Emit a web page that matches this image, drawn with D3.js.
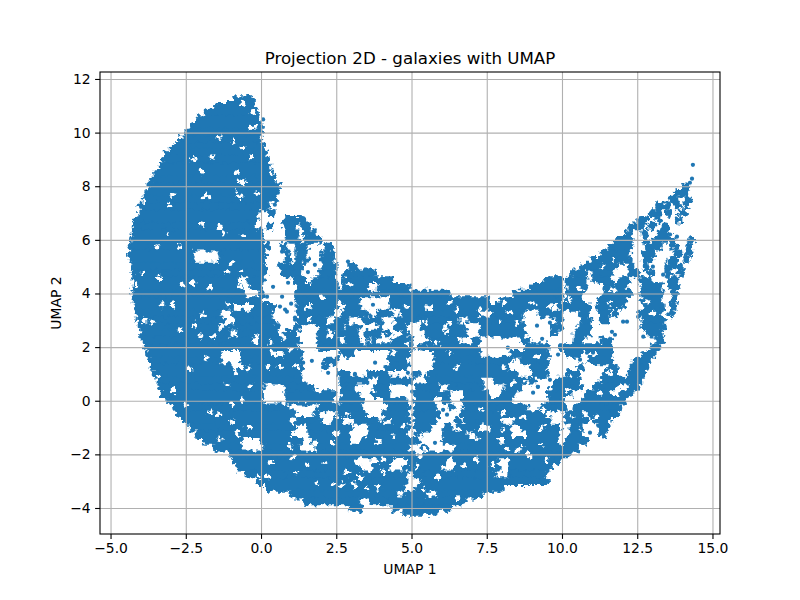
<!DOCTYPE html>
<html>
<head>
<meta charset="utf-8">
<script src="https://cdn.jsdelivr.net/npm/d3@7"></script>
<style>
  html, body { margin: 0; background: #fff; }
  text { font-family: "DejaVu Sans", sans-serif; fill: #000; }
</style>
</head>
<body>
<div id="chart"></div>
<script>
var xTicks = [-5, -2.5, 0, 2.5, 5, 7.5, 10, 12.5, 15]
var yTicks = [-4, -2, 0, 2, 4, 6, 8, 10, 12]

// the cloud is too dense to read point by point, so it is read off the picture
// as filled x spans per row of UMAP 2
var rowY = [11.25, 11, 10.75, 10.5, 10.25, 10, 9.75, 9.5, 9.25, 9, 8.75, 8.5, 8.25, 8, 7.75, 7.5,
  7.25, 7, 6.75, 6.5, 6.25, 6, 5.75, 5.5, 5.25, 5, 4.75, 4.5, 4.25, 4, 3.75, 3.5, 3.25, 3, 2.75, 2.5,
  2.25, 2, 1.75, 1.5, 1.25, 1, 0.75, 0.5, 0.25, 0, -0.25, -0.5, -0.75, -1, -1.25, -1.5, -1.75, -2,
  -2.25, -2.5, -2.75, -3, -3.25, -3.5, -3.75, -4, -4.15]
var rowSpans = [
  [[-0.95, -0.2]],
  [[-1.53, -0.13]],
  [[-1.9, -0.07]],
  [[-2.16, 0]],
  [[-2.36, 0.1]],
  [[-2.56, 0.07]],
  [[-2.76, 0.07]],
  [[-3, 0.13]],
  [[-3.2, 0.23]],
  [[-3.3, 0.3]],
  [[-3.4, 0.33]],
  [[-3.55, 0.4]],
  [[-3.7, 0.53]],
  [[-3.8, 0.66], [14, 14.2]],
  [[-3.9, 0.63], [13.75, 14.2]],
  [[-4, 0.53], [13.5, 13.9], [14.05, 14.15]],
  [[-4.1, 0.3], [13.1, 13.6], [13.7, 13.85], [14, 14.15]],
  [[-4.15, -0.05], [0.2, 0.35], [12.85, 13.3], [13.4, 13.65], [13.85, 14.15]],
  [[-4.2, -0.1], [0.7, 1.5], [12.5, 12.9], [13.1, 13.35], [13.75, 13.8]],
  [[-4.3, -0.2], [0.15, 0.3], [0.7, 1.2], [1.3, 1.7], [12.2, 12.75], [12.85, 13.05], [13.3, 13.6]],
  [[-4.3, 0.1], [0.75, 1.3], [1.4, 1.85], [12.1, 12.3], [12.6, 12.9], [13.15, 13.6]],
  [[-4.35, 0.1], [0.8, 1.3], [1.4, 2.05], [11.75, 12.35], [12.65, 12.75], [13, 13.8], [14.2, 14.3]],
  [[-4.4, 0.3], [0.65, 0.85], [1.1, 1.6], [2.05, 2.45], [11.5, 12.4], [12.75, 13.35], [13.6, 13.9], [14.1, 14.25]],
  [[-4.45, -2.2], [-1.45, 0.2], [0.75, 0.95], [1.1, 1.55], [2, 2.45], [11.25, 12.3], [12.65, 13.15], [13.7, 14], [14.05, 14.2]],
  [[-4.4, -2.2], [-1.4, 0.2], [0.75, 0.9], [1.1, 1.6], [1.95, 2.45], [10.95, 11.7], [11.75, 12.35], [12.65, 13], [13.5, 13.85], [14, 14.15]],
  [[-4.35, 0.2], [0.55, 1.4], [2, 2.55], [2.9, 3.2], [10.6, 11.3], [11.4, 11.9], [12.15, 12.35], [12.65, 12.9], [13.4, 14.05]],
  [[-4.3, 0.2], [0.65, 1.4], [1.85, 2.5], [2.75, 3.85], [10.27, 10.85], [10.95, 11.7], [12.2, 12.6], [12.85, 13.1], [13.4, 13.6], [13.8, 14.05]],
  [[-4.3, -0.7], [-0.5, 0.15], [1.05, 1.5], [1.65, 2.5], [2.65, 4.4], [9.4, 10.05], [10.1, 10.85], [10.95, 11.7], [11.85, 12.3], [12.5, 13], [13.5, 13.9]],
  [[-4.3, -0.6], [-0.4, 0.05], [1.2, 2.6], [2.7, 3.6], [3.85, 4.95], [8.9, 10.05], [10.15, 10.9], [11.35, 12.15], [12.6, 13.35], [13.5, 13.9]],
  [[-4.3, -0.5], [-0.1, 0.1], [1.1, 6.3], [8.35, 10.05], [10.15, 10.7], [11.3, 12.35], [12.6, 13.45], [13.6, 13.85]],
  [[-4.3, 0.1], [1.1, 3.3], [4.25, 7.6], [7.9, 10.05], [10.1, 10.7], [11.2, 12.15], [12.6, 13.35], [13.6, 13.8]],
  [[-4.25, -0.9], [-0.3, 0.5], [1.15, 1.45], [1.65, 2.6], [2.75, 3.3], [4.2, 9.7], [9.85, 11], [11.1, 12.15], [12.7, 13.45], [13.55, 13.7]],
  [[-4.2, -1.3], [-1, 0.4], [1.15, 2.4], [2.65, 3.6], [3.8, 4.4], [4.6, 7.25], [7.55, 8.8], [9.15, 10.05], [10.5, 10.9], [11.2, 11.6], [11.65, 11.85], [12.5, 13.35], [13.5, 13.65]],
  [[-4.15, -1.2], [-0.9, 0.5], [1.2, 2.2], [2.4, 2.95], [3.35, 4.05], [4.35, 6.6], [6.85, 8.7], [9.8, 10.05], [10.6, 11], [11.25, 11.6], [12.6, 13.45]],
  [[-4.1, -1.4], [-1.2, 0.6], [1.05, 1.35], [1.85, 2.75], [2.8, 3.4], [3.85, 4.05], [4.4, 4.85], [5.3, 6.05], [6.2, 6.8], [7.3, 8.8], [9.6, 10.05], [10.5, 11], [12.6, 13.45]],
  [[-4.05, -1], [-0.8, 0.6], [0.75, 1.2], [1.85, 2.2], [2.4, 3.25], [3.4, 4.3], [4.65, 4.95], [5.4, 6.9], [7.2, 8.8], [9.6, 9.8], [10.35, 11], [12.8, 13.35]],
  [[-4, -0.3], [-0.1, 1.3], [1.85, 2.6], [2.75, 3.3], [3.5, 3.85], [4.3, 5.1], [5.6, 6.7], [6.95, 7.3], [8.6, 8.95], [10.35, 10.7], [11.25, 11.7], [13.1, 13.4]],
  [[-3.9, 1.3], [1.85, 5.1], [5.2, 7.3], [8.75, 9.6], [9.85, 11.7], [12.9, 13.3]],
  [[-3.85, -1.3], [-0.7, 0.5], [0.75, 1.4], [2.6, 3.1], [4.2, 5], [5.7, 7.3], [8.25, 9.6], [10.05, 10.7], [11.15, 11.7], [12.65, 13.15]],
  [[-3.75, -1.3], [-0.7, 1.4], [2.1, 2.6], [4.2, 4.9], [5.75, 8.4], [8.6, 9.6], [10.8, 11.7], [12.35, 13]],
  [[-3.7, -0.9], [-0.6, 1.4], [2, 2.3], [4.1, 4.9], [5.7, 8.25], [8.9, 9.5], [10.5, 10.7], [11.5, 11.85], [12.25, 12.9]],
  [[-3.6, 1.4], [2.5, 3], [3.5, 4.3], [5, 5.3], [5.5, 8.5], [9, 9.6], [10.1, 10.6], [11.35, 11.9], [12.15, 12.8]],
  [[-3.5, 1.35], [2.6, 3.6], [3.85, 5.1], [5.45, 7.4], [7.7, 9.15], [9.7, 10.6], [11.25, 12.7]],
  [[-3.45, 0.1], [0.75, 1.8], [2.6, 3.2], [3.75, 4.3], [5.05, 5.95], [6.2, 7.4], [8.05, 8.7], [9.6, 10.7], [11, 11.9], [12.15, 12.6]],
  [[-3.3, 0.1], [0.8, 2.55], [2.65, 3.3], [3.6, 4.3], [5.05, 6.3], [6.7, 7.6], [7.95, 8.5], [9.5, 10.35], [10.7, 11.6], [11.9, 12.4]],
  [[-3.15, 0.1], [0.8, 2.4], [2.6, 3.45], [4.05, 4.9], [5.05, 5.8], [6, 6.3], [6.65, 8.35], [9.5, 10.05], [10.6, 12.15]],
  [[-2.95, 0.95], [1.85, 3.4], [4.2, 4.95], [5.05, 5.85], [6.2, 6.5], [6.7, 8.85], [9.25, 10.15], [10.35, 12]],
  [[-2.8, 1.2], [1.7, 2], [2.5, 3.5], [4, 4.95], [5.05, 6], [6.6, 9.5], [10.05, 10.7], [10.85, 11.9]],
  [[-2.6, 2.05], [2.35, 2.7], [3, 4], [4.3, 4.95], [5.05, 5.85], [6.4, 6.6], [6.7, 8.05], [8.35, 9.7], [10.05, 10.85], [11.05, 11.7]],
  [[-2.4, 1.2], [1.5, 3.05], [3.55, 4.95], [5.05, 5.7], [6.05, 6.4], [6.5, 7.3], [7.6, 8.35], [8.6, 10.05], [10.25, 10.7], [11.15, 11.6]],
  [[-2.2, 1], [1.5, 2.4], [2.6, 3], [3.5, 4.9], [5.1, 5.4], [6, 6.9], [7, 8.3], [8.8, 9.95], [10.2, 10.7], [11.2, 11.4]],
  [[-1.95, -0.6], [-0.05, 1.4], [1.65, 3], [3.3, 3.85], [4, 5.3], [6, 7.9], [8.1, 9.9], [10.1, 10.9]],
  [[-1.6, -0.6], [0.05, 1.3], [1.8, 4.95], [5.3, 5.6], [6.4, 10.6]],
  [[-1.1, 5.2], [5.35, 10.3]],
  [[-0.95, 3.15], [3.85, 4.4], [4.85, 6.2], [6.4, 7.9], [8.2, 10]],
  [[-0.85, 3.3], [3.7, 4.3], [4.65, 6], [6.4, 8], [8.2, 9.7]],
  [[-0.55, 4.9], [5, 7.8], [8.15, 9.5]],
  [[-0.2, 4.9], [5.3, 9.6]],
  [[0.13, 3.85], [3.95, 4.8], [5.1, 8.1]],
  [[0.95, 4.6], [4.7, 5.5], [5.8, 7.4]],
  [[1.4, 3.3], [3.6, 6.8]],
  [[2.9, 3.4], [4.3, 6.35]],
  [[4.7, 5.9]]
]

// small white specks inside the filled spans
var gapX = [-0.6, -0.27, -0.2, -0.37, -0.93, -0.63, -0.3, -1.96, -1.96, -1.63, -0.8, -0.7, -0.6, -0.8, -0.7, -1.8, -1.93,
  -3.9, -2.92, -3.09, -4.07, -1.36, -2.26, -2.96, -1.96, -1.36, -0.13, -0.03,
  -3.12, -1.26, -0.6, -3.42, -2.69, -3.92, -3.36, -2.62, -4.12, -2.26, -1.69, -1.13, -0.63, -0.7, -0.96,
  -3.26, -2.96, -3.85, -3.59, -2.69, -2.19, -1.93, -1.13, -1.59, -2.03, -0.13, -0.47, -1.13,
  -3.42, -1.79, -2.36, -0.86, -0.43, -0.37, -1.13,
  -2.92, -1.43, -1.69, -0.96, -0.63, -2.46, -0.96, -0.43, -0.8, -1.36, 1.03, 1.2, 1.53, 0.96, 1.79, 2.36, 3.06, 3.02, 2.13,
  1.06, 1.53, 0.3, 0.23, -0.13, 2.36, 2.69, 1.2, 2.13, 1.86, 3.06,
  3.19, 3.39, 3.52, 3.12, 4.55, 5.38, 5.22, 5.88, 6.54, 6.71, 7.18, 8, 7.71, 8.5, 8.67, 9.27, 9.27, 4.05, 5.85, 5.45, 7.18, 8.17, 8.84,
  1.63, 1.73, 2.62, 2.96, 3.62, 2.06, 2.62, 4.39, 4.85, 5.51, 5.61, 6.28, 6.51, 5.28, 5.51, 6.28, 6.18, 4.39, 2.96, 2.29, 1.63, 1.4, 0.96, 0.73, 0.3,
  3.62, 4.05, 4.85, 5.85, 6.61, 0.4, 0.96, 0.63, 1.2, 0.2, 2.72, 4.39, 6.28, 6.51,
  7.28, 7.61, 8.04, 8.27, 7.94, 8.5, 9.6, 9.04, 10.27, 10.6, 11.16, 11.7, 12.49, 12.82, 13.02, 11.6, 11.93,
  8.04, 8.7, 9.17, 8.37, 8.84, 10.27, 10.17, 10.83, 11.6, 11.83, 11.26, 9.37, 8.7, 8.04, 7.28, 9.83, 10.37, 11.16, 11.6, 9.37, 8.04, 7.28, 10.03,
  3.19, 3.06, 2.86, 3.46, 3.85, 4.39, 4.72, 5.28, 5.51, 6.51, 7.04, 7.38, 8.5, 8.94, 9.5, 4.05, 4.05, 2.86, 3.29, 6.28]
var gapY = [11.1, 10.75, 10.2, 10.2, 9.65, 9.45, 9.1, 8.6, 8.5, 9.1, 8.55, 8.17, 8.13, 7.8, 7.6, 7.6, 7.57,
  7.45, 7.69, 7.3, 7.1, 9.85, 9, 9.55, 6.57, 6.5, 7.76, 6.95,
  6.2, 6.27, 6.12, 5.75, 5.75, 4.8, 4.58, 4.33, 4.33, 4.4, 4.2, 4.8, 4.78, 4.25, 5.15,
  3.58, 3.58, 3, 2.95, 2.65, 2.83, 3.2, 3.13, 2.39, 2.39, 2.39, 3.4, 3.58,
  0.9, 1.6, 1.15, 1.04, 1.23, 0.52, 0.6,
  0.37, -0.52, -0.45, -0.15, 0.04, -0.15, -0.78, -0.97, -1.2, -1.45, -0.78, -1.2, -1.27, -1.72, -1.57, -1.57, -1.34, -0.82, -0.82,
  -2.13, -2.39, -2.31, -2.84, -2.84, -3.13, -3.13, -2.69, -2.31, -3.06, -3.06,
  -2.2, -2.46, -3.25, -3.2, -2.46, -3.32, -2.46, -2.84, -3.69, -2.46, -2.2, -2.69, -2.39, -1.08, -1.72, -1.64, -1.08, -0.7, -1.83, -1.83, -1.45, -1.83, -1.94,
  5.63, 5.26, 4.51, 4.33, 4.14, 3.84, 3.66, 3.4, 3.51, 3.51, 3.47, 3.66, 3.4, 2.91, 2.91, 2.91, 2.54, 2.95, 2.91, 2.39, 3.02, 2.54, 2.84, 2.35, 2.16,
  2.2, 2.39, 2.16, 2.16, 2.28, 1.79, 1.9, 1.27, 1.27, 1.27, 1.64, 1.79, 1.79, 1.27,
  3.4, 3.28, 3.66, 3.28, 2.91, 2.91, 3.51, 3.66, 3.77, 4.14, 4.4, 4.14, 4.14, 3.66, 3.28, 3.66, 3.4,
  1.27, 1.27, 1.64, 0.67, 0.67, 0.9, 0.41, 0.78, 1.04, 0.41, 0.3, -0.34, -0.6, -0.45, -0.34, -0.45, -0.63, -0.6, -0.82, -0.97, -1.08, -1.08, -0.97,
  0.41, -1.34, -0.52, -1.19, -1.57, -1.34, -0.97, -1.34, -1.57, -1.08, -1.34, -0.97, -1.83, -2.09, -2.2, -2.69, -2.2, -2.69, -2.84, -2.2]

// single points that stand clear of the dense body
var pointX = [1.56, 1.79, 0.4, 0.7, 1, 0.8, 1.13, 3.72, 1.69, 2.06, 3.12, 3.79, 1.4, 2.23, 2.89,
  0.63, 0.86, 1.13, 0.7, 0.9, 0.2, 0.46, 0.4, 0.07, 0.56,
  4.88, 4.52, 3.12, 4.12, 6.05, 6.18, 5.78, 6.61, 9.2, 7.18, 5.02,
  9.17, 9.6, 9.34, 9.67, 8.2, 9.6, 9.2, 9.04, 8.5, 10.6, 10.83, 11.03, 9.87, 11.66, 11.76, 12.7, 12.16, 12.03, 12.53,
  10, 9.7, 10.43, 10.53, 10.93,
  14.35, 14.32, 14.25, 14.25, 13.82, 13.82, 13.59, 14.19, 13.36, 13.02, 13.49]
var pointY = [4.8, 5.07, 4.25, 3.88, 3.62, 3.4, 3.1, 3.58, 1.49, 1.38, 1, 1.42, 1.42, 1.04, 5.19,
  3.51, 3.32, 3.02, 5.56, 4.4, 3.88, 7.31, 7.05, 10.49, 7.76,
  1.04, 0.07, 0.97, -0.71, -0.34, -0.52, -1.57, -0.78, 0.52, -0.78, 0.34,
  2.8, 2.91, 2.31, 2.54, 1.98, 0.78, 0.52, 0.3, 1, 1.53, 1.79, 1.79, 1.72, 2.57, 2.46, 2.39, 2.95, 2.95, 3.13,
  0.04, -0.07, -0.22, -0.63, -1.19,
  8.8, 8.28, 8.13, 5.97, 6.12, 6.75, 6.2, 5.7, 4.7, 5, 4.63]

var width = 800, height = 600
var margin = { top: 72, right: 80, bottom: 66, left: 100 }
var w = width - margin.left - margin.right
var h = height - margin.top - margin.bottom
var blue = '#1f77b4'

var svg = d3.select('#chart').append('svg')
  .attr('width', width)
  .attr('height', height)
  .style('display', 'block')

// roughens the edges of the filled spans so they read as a speckled cloud
var rough = svg.append('defs').append('filter')
  .attr('id', 'rough')
  .attr('filterUnits', 'userSpaceOnUse')
  .attr('x', 0).attr('y', 0).attr('width', width).attr('height', height)
  .attr('color-interpolation-filters', 'sRGB')
rough.append('feTurbulence')
  .attr('type', 'fractalNoise')
  .attr('baseFrequency', 0.22)
  .attr('numOctaves', 2)
  .attr('seed', 4)
  .attr('result', 'noise')
rough.append('feDisplacementMap')
  .attr('in', 'SourceGraphic')
  .attr('in2', 'noise')
  .attr('scale', 9)
  .attr('xChannelSelector', 'R')
  .attr('yChannelSelector', 'G')

var g = svg.append('g').attr('transform', 'translate(' + margin.left + ',' + margin.top + ')')

var x = d3.scaleLinear().domain([-5.35, 15.25]).range([0, w])
var y = d3.scaleLinear().domain([-4.97, 12.26]).range([h, 0])

// dense body
var rowH = Math.abs(y(0) - y(0.25)) + 1
var spans = []
rowSpans.forEach(function(row, i) {
  row.forEach(function(s) { spans.push({ y: rowY[i], a: s[0], b: s[1] }) })
})

var body = g.append('g').attr('filter', 'url(#rough)')

body.append('g').selectAll('line').data(spans).join('line')
  .attr('x1', function(d) { return x(d.a) + rowH / 2 })
  .attr('x2', function(d) { return Math.max(x(d.b) - rowH / 2, x(d.a) + rowH / 2) })
  .attr('y1', function(d) { return y(d.y) })
  .attr('y2', function(d) { return y(d.y) })
  .attr('stroke', blue)
  .attr('stroke-width', rowH)
  .attr('stroke-linecap', 'round')

body.append('g').selectAll('circle').data(d3.range(gapX.length)).join('circle')
  .attr('cx', function(i) { return x(gapX[i]) })
  .attr('cy', function(i) { return y(gapY[i]) })
  .attr('r', 2.4)
  .attr('fill', '#fff')

g.append('g').selectAll('circle').data(d3.range(pointX.length)).join('circle')
  .attr('cx', function(i) { return x(pointX[i]) })
  .attr('cy', function(i) { return y(pointY[i]) })
  .attr('r', 2.1)
  .attr('fill', blue)

// grid sits above the points
var gridStyle = function(sel) {
  sel.select('.domain').remove()
  sel.selectAll('text').remove()
  sel.selectAll('line').attr('stroke', '#b0b0b0').attr('stroke-width', 1.1)
}
g.append('g').attr('transform', 'translate(0,' + h + ')')
  .call(d3.axisBottom(x).tickValues(xTicks).tickSize(-h))
  .call(gridStyle)
g.append('g')
  .call(d3.axisLeft(y).tickValues(yTicks).tickSize(-w))
  .call(gridStyle)

var axisStyle = function(sel) {
  sel.select('.domain').remove()
  sel.selectAll('line').attr('stroke', '#000').attr('stroke-width', 1.1)
  sel.selectAll('text').attr('font-size', 13.9).style('font-family', '"DejaVu Sans", sans-serif')
}
g.append('g').attr('transform', 'translate(0,' + h + ')')
  .call(d3.axisBottom(x).tickValues(xTicks).tickSize(4.9).tickPadding(4.5).tickFormat(d3.format('.1f')))
  .call(axisStyle)
g.append('g')
  .call(d3.axisLeft(y).tickValues(yTicks).tickSize(4.9).tickPadding(4.5).tickFormat(d3.format('d')))
  .call(axisStyle)

g.append('rect')
  .attr('width', w)
  .attr('height', h)
  .attr('fill', 'none')
  .attr('stroke', '#000')
  .attr('stroke-width', 1.1)

svg.append('text')
  .attr('x', margin.left + w / 2)
  .attr('y', 64)
  .attr('text-anchor', 'middle')
  .attr('font-size', 16.67)
  .text('Projection 2D - galaxies with UMAP')

svg.append('text')
  .attr('x', margin.left + w / 2)
  .attr('y', 574)
  .attr('text-anchor', 'middle')
  .attr('font-size', 13.9)
  .text('UMAP 1')

svg.append('text')
  .attr('transform', 'translate(61,' + (margin.top + h / 2) + ') rotate(-90)')
  .attr('text-anchor', 'middle')
  .attr('font-size', 13.9)
  .text('UMAP 2')
</script>
</body>
</html>
